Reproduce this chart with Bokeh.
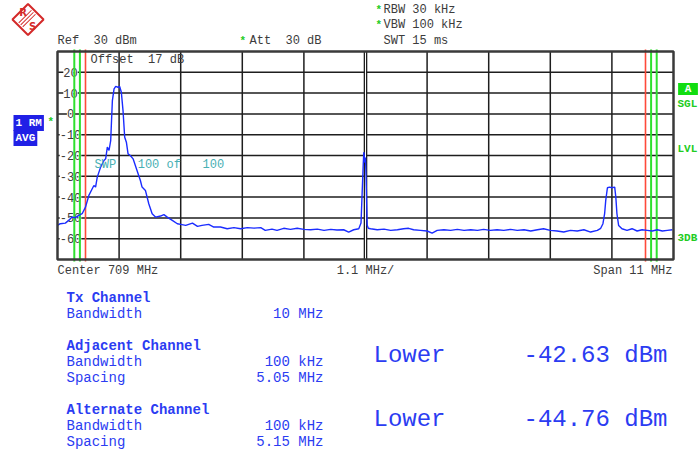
import math
from bokeh.plotting import figure
from bokeh.models import Label, LabelSet, ColumnDataSource, Range1d
from bokeh.embed import file_html
from bokeh.resources import INLINE
from bokeh.core.properties import value

# ---------------- instrument settings ----------------
center_mhz = 709.0
span_mhz = 11.0
ref_level_dbm = 30.0
db_per_div = 10.0
att_db = 30
offset_db = 17
rbw_text = "30 kHz"
vbw_text = "100 kHz"
swt_text = "15 ms"
sweeps_done = 100
sweeps_total = 100

# ---------------- channel table ----------------
tx_bw_mhz = 10.0
adj_bw_khz = 100
adj_spacing_mhz = 5.05
alt_bw_khz = 100
alt_spacing_mhz = 5.15
adj_lower_dbm = -42.63
alt_lower_dbm = -44.76

# ---------------- y tick labels ----------------
y_tick_values = [20, 10, 0, -10, -20, -30, -40, -50, -60]
y_tick_labels = ["20", "10", "0", "-10", "-20", "-30", "-40", "-50", "-60"]

# ---------------- trace ----------------
trace_freq_mhz = [
    703.50, 703.55, 703.64, 703.70, 703.76, 703.82, 703.88, 703.94, 704.00, 704.06,
    704.12, 704.15, 704.18, 704.21, 704.27, 704.33, 704.36, 704.39, 704.42, 704.45,
    704.48, 704.51, 704.54, 704.58, 704.61, 704.64, 704.67, 704.70, 704.73, 704.76,
    704.80, 704.85, 704.92, 704.98, 705.01, 705.07, 705.13, 705.19, 705.25, 705.34,
    705.40, 705.46, 705.55, 705.64, 705.70, 705.79, 705.91, 706.00, 706.08, 706.20,
    706.29, 706.41, 706.53, 706.65, 706.77, 706.89, 707.01, 707.13, 707.21, 707.33,
    707.42, 707.54, 707.66, 707.78, 707.90, 708.02, 708.14, 708.26, 708.38, 708.49,
    708.61, 708.70, 708.79, 708.88, 708.92, 708.94, 708.96, 708.97, 708.99, 709.00,
    709.01, 709.03, 709.05, 709.09, 709.21, 709.33, 709.45, 709.57, 709.68, 709.77,
    709.86, 709.98, 710.10, 710.19, 710.28, 710.40, 710.52, 710.64, 710.76, 710.88,
    711.00, 711.11, 711.23, 711.35, 711.47, 711.59, 711.71, 711.83, 711.95, 712.07,
    712.18, 712.30, 712.42, 712.54, 712.66, 712.78, 712.90, 713.02, 713.14, 713.20,
    713.24, 713.27, 713.29, 713.32, 713.36, 713.40, 713.45, 713.47, 713.49, 713.52,
    713.58, 713.67, 713.76, 713.85, 713.94, 714.03, 714.12, 714.21, 714.30, 714.39,
    714.48,
]
trace_level_dbm = [
    -53.6, -52.8, -52.5, -51.2, -49.6, -49.9, -48.8, -48.0, -44.8, -39.2,
    -36.0, -34.4, -35.2, -30.4, -25.6, -22.4, -21.6, -16.0, -17.6, -12.8,
    6.4, 12.0, 13.2, 12.8, 13.2, 10.4, 1.6, -11.2, -13.6, -19.2,
    -20.0, -21.6, -27.2, -32.0, -35.2, -36.8, -43.2, -48.0, -49.6, -49.1,
    -48.4, -49.6, -51.2, -52.8, -53.1, -53.6, -52.5, -54.1, -53.6, -53.1,
    -54.4, -54.4, -55.2, -54.7, -55.2, -54.7, -54.9, -54.7, -56.0, -55.4,
    -56.0, -55.0, -55.5, -55.0, -55.5, -55.7, -55.4, -56.0, -55.5, -55.8,
    -55.7, -56.8, -55.7, -55.2, -52.5, -38.0, -24.0, -18.4, -23.5, -21.0,
    -30.0, -53.5, -55.0, -55.2, -55.7, -55.4, -56.0, -55.7, -55.2, -55.0,
    -55.7, -56.0, -56.3, -57.3, -56.0, -55.7, -56.0, -55.5, -56.0, -55.7,
    -56.0, -55.5, -56.0, -55.7, -56.0, -55.5, -56.0, -55.7, -56.3, -55.7,
    -55.2, -56.0, -56.3, -56.8, -56.0, -56.3, -55.7, -56.8, -56.0, -55.0,
    -52.8, -48.0, -41.6, -35.5, -35.2, -35.5, -35.2, -40.0, -48.0, -53.6,
    -55.2, -56.0, -55.2, -56.3, -55.7, -56.0, -56.3, -55.7, -56.3, -56.0,
    -55.7,
]

# ---------------- geometry ----------------
W, H = 700, 452
x0 = center_mhz - span_mhz / 2
x1 = center_mhz + span_mhz / 2
y1 = ref_level_dbm
y0 = ref_level_dbm - 10 * db_per_div

# the diagram box sits at page pixels x 57..673, y 51..259; the plot frame is the whole canvas
FL, FT, FW, FH = 57.0, 51.0, 616.0, 208.0
def X(px):
    return x0 + (px - FL) * span_mhz / FW
def Y(py):
    return y1 - (py - FT) * (y1 - y0) / FH

p = figure(width=W, height=H, x_range=Range1d(X(0), X(W)), y_range=Range1d(Y(H), Y(0)),
           output_backend="svg", toolbar_location=None,
           min_border=0, min_border_left=0, min_border_right=0,
           min_border_top=0, min_border_bottom=0)
p.xaxis.visible = False
p.yaxis.visible = False
p.xgrid.visible = False
p.ygrid.visible = False
p.outline_line_color = None
p.background_fill_color = "white"
p.border_fill_color = "white"

GRID = "#1e1e1e"
x_grid = [x0 + k * span_mhz / 10 for k in range(1, 10) if k != 5]
gx = p.segment(x0=x_grid, y0=[y0] * len(x_grid), x1=x_grid, y1=[y1] * len(x_grid),
               line_color=GRID, line_width=1.5)
gy = p.segment(x0=[x0] * len(y_tick_values), y0=y_tick_values,
               x1=[x1] * len(y_tick_values), y1=y_tick_values,
               line_color=GRID, line_width=1.5)
gx.level = "underlay"
gy.level = "underlay"

MONO = "Liberation Mono"
GRAY = "#3c3c3c"
BLUE = "#2b3cf2"
GREEN = "#22cc22"
RED = "#d42a2a"
NB = "\u00a0"

# y tick labels inside the frame (white background interrupts grid lines)
tick_src = ColumnDataSource(dict(x=[x0] * len(y_tick_values), y=y_tick_values, t=y_tick_labels))
p.add_layout(LabelSet(x="x", y="y", text="t", source=tick_src, x_offset=13,
                      text_align="center", text_baseline="middle",
                      text_font=value(MONO), text_font_size="12px", text_color=GRAY,
                      background_fill_color="white", level="underlay"))

# double centre line
p.segment(x0=[center_mhz], y0=[y0], x1=[center_mhz], y1=[y1], line_color=GRID, line_width=3.6)
p.segment(x0=[center_mhz], y0=[y0], x1=[center_mhz], y1=[y1], line_color="white", line_width=1.0)

# channel limit lines (Tx edges red, adjacent/alternate edges green)
red_edges = [center_mhz - tx_bw_mhz / 2, center_mhz + tx_bw_mhz / 2]
green_edges = []
for sp, bw_khz in [(adj_spacing_mhz, adj_bw_khz), (alt_spacing_mhz, alt_bw_khz)]:
    for sgn in (-1, 1):
        c = center_mhz + sgn * sp
        for e in (c - bw_khz / 2000.0, c + bw_khz / 2000.0):
            if all(abs(e - r) > 1e-6 for r in red_edges) and \
               all(abs(e - g) > 1e-6 for g in green_edges):
                green_edges.append(e)
p.segment(x0=green_edges, y0=[y0 - 1] * len(green_edges), x1=green_edges,
          y1=[y1 + 1] * len(green_edges), line_color="#2ee02e", line_width=2)
p.segment(x0=red_edges, y0=[y0 - 1] * 2, x1=red_edges, y1=[y1 + 1] * 2,
          line_color="#ff4a3a", line_width=1.6)

# trace
p.line(trace_freq_mhz, trace_level_dbm, line_color="#1a2cff", line_width=1.4)

# frame
p.quad(left=[x0], right=[x1], bottom=[y0], top=[y1], fill_color=None,
       line_color="#3a3a3a", line_width=2.5)

# ---------------- logo ----------------
p.rect(x=[X(27.5)], y=[Y(19)], width=22, height=22, width_units="screen",
       height_units="screen", angle=math.pi / 4, fill_color="white",
       line_color=RED, line_width=2)
stripe_px = [(24.6, 16.1), (26.6, 18.1), (28.6, 20.1)]
p.rect(x=[X(a) for a, b in stripe_px], y=[Y(b) for a, b in stripe_px],
       width=18, height=1.0, width_units="screen", height_units="screen",
       angle=math.pi / 4, fill_color=RED, line_color=None)

# ---------------- texts ----------------
def lab(px, py, text, size=12, color=GRAY, align="left", bold=False, font=MONO,
        bg=None, angle=0.0, padding=0):
    l = Label(x=X(px), y=Y(py), text=text.replace(" ", NB), text_font=font,
              text_font_size=f"{size}px",
              text_color=color, text_align=align, text_baseline="middle",
              text_font_style="bold" if bold else "normal",
              background_fill_color=bg, angle=angle, padding=padding)
    p.add_layout(l)

lab(22.5, 12.0, "R", size=10, color=RED, align="center", font="DejaVu Sans", bold=True)
lab(32.0, 26.0, "S", size=10, color=RED, align="center", font="DejaVu Sans", bold=True)

# header
lab(57, 40, f"Ref  {ref_level_dbm:g} dBm")
lab(239, 40, "*", size=11, color=GREEN, bold=True)
lab(249, 40, f"Att  {att_db} dB")
lab(375, 9, "*", size=11, color=GREEN, bold=True)
lab(383, 9, f"RBW {rbw_text}")
lab(375, 24, "*", size=11, color=GREEN, bold=True)
lab(383, 24, f"VBW {vbw_text}")
lab(383, 40, f"SWT {swt_text}")

# inside the diagram
lab(90, 59, f"Offset  {offset_db} dB")
lab(94, 164.5, f"SWP   {sweeps_done} of   {sweeps_total}", color="#48b0b4")

# trace info box at left
lab(13, 122.5, "1 RM", size=11, color="white", bold=True, bg="#2020e6", padding=2)
lab(13, 137.5, "AVG", size=11, color="white", bold=True, bg="#2020e6", padding=2)
lab(47, 121, "*", size=11, color=GREEN, bold=True)

# right side status
lab(687.5, 88.5, " A ", size=11, color="white", bold=True, bg="#11dd11", align="center")
lab(677, 103, "SGL", size=11, color=GREEN, bold=True)
lab(677, 148, "LVL", size=11, color=GREEN, bold=True)
lab(677, 237, "3DB", size=11, color=GREEN, bold=True)

# bottom annotation
lab(57, 270, f"Center {center_mhz:g} MHz")
lab(365, 270, f"{span_mhz / 10:g} MHz/", align="center")
lab(672, 270, f"Span {span_mhz:g} MHz", align="right")

# channel table
lab(66, 297.5, "Tx Channel", size=14, color=BLUE, bold=True)
lab(66, 313.3, "Bandwidth", size=14, color=BLUE)
lab(323, 313.3, f"{tx_bw_mhz:g} MHz", size=14, color=BLUE, align="right")

lab(66, 345.7, "Adjacent Channel", size=14, color=BLUE, bold=True)
lab(66, 361.7, "Bandwidth", size=14, color=BLUE)
lab(323, 361.7, f"{adj_bw_khz} kHz", size=14, color=BLUE, align="right")
lab(66, 377.3, "Spacing", size=14, color=BLUE)
lab(323, 377.3, f"{adj_spacing_mhz:.2f} MHz", size=14, color=BLUE, align="right")

lab(66, 409.3, "Alternate Channel", size=14, color=BLUE, bold=True)
lab(66, 425, "Bandwidth", size=14, color=BLUE)
lab(323, 425, f"{alt_bw_khz} kHz", size=14, color=BLUE, align="right")
lab(66, 441, "Spacing", size=14, color=BLUE)
lab(323, 441, f"{alt_spacing_mhz:.2f} MHz", size=14, color=BLUE, align="right")

lab(373, 355, "Lower", size=24, color=BLUE)
lab(667, 355, f"{adj_lower_dbm:.2f} dBm", size=24, color=BLUE, align="right")
lab(373, 419.3, "Lower", size=24, color=BLUE)
lab(667, 419.3, f"{alt_lower_dbm:.2f} dBm", size=24, color=BLUE, align="right")

open("out.html", "w").write(file_html(p, INLINE))
